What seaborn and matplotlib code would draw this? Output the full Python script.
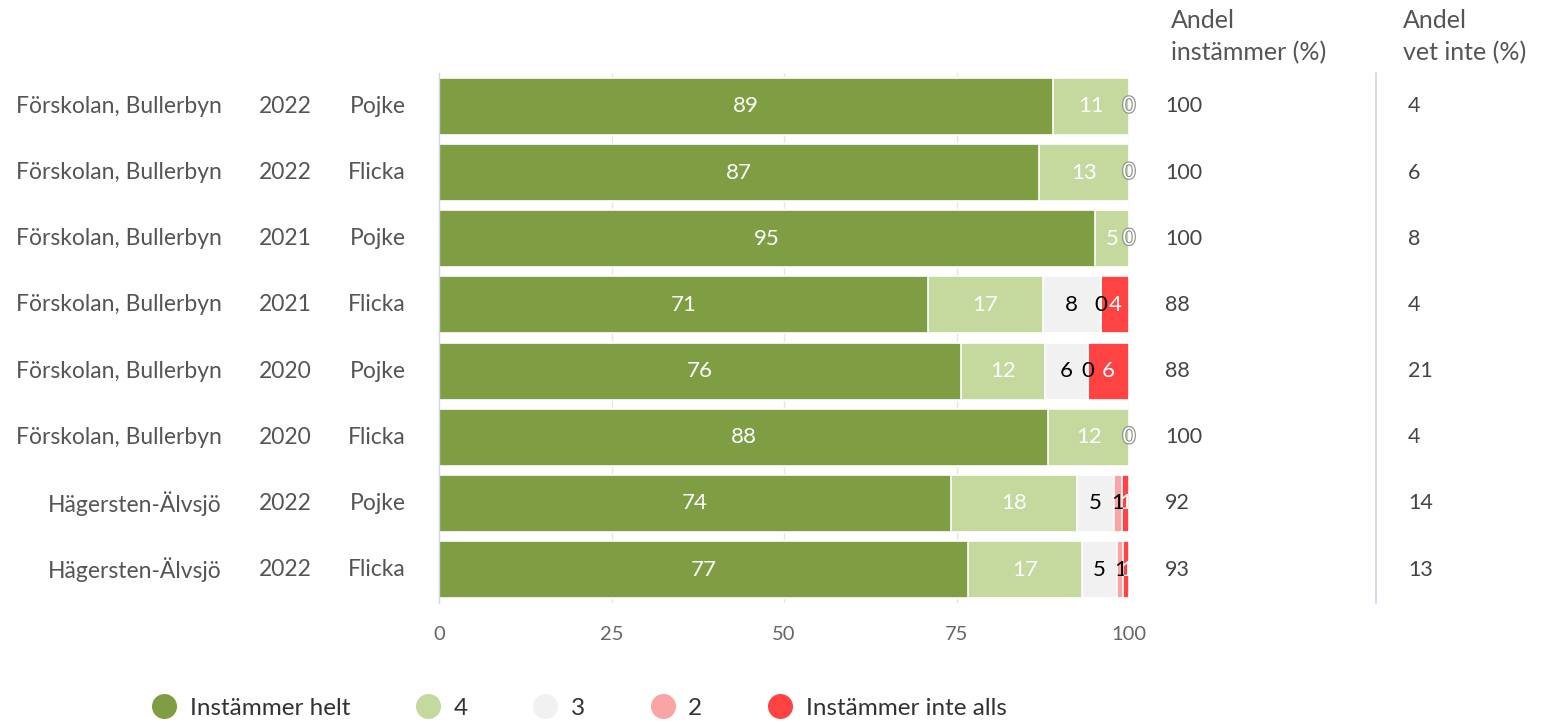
import numpy as np
import pandas as pd
import seaborn as sns
import matplotlib.pyplot as plt
import matplotlib.patheffects as pe
from matplotlib.lines import Line2D

# Data
schools = ["Förskolan, Bullerbyn"] * 6 + ["Hägersten-Älvsjö"] * 2
years = ["2022", "2022", "2021", "2021", "2020", "2020", "2022", "2022"]
genders = ["Pojke", "Flicka", "Pojke", "Flicka", "Pojke", "Flicka", "Pojke", "Flicka"]

helt = [89, 87, 95, 70.9, 75.7, 88.3, 74.2, 76.6]
fyra = [11, 13, 5, 16.6, 12.1, 11.7, 18.2, 16.6]
tre = [0, 0, 0, 8.4, 6.2, 0, 5.4, 5.1]
tva = [0, 0, 0, 0, 0, 0, 1.2, 0.9]
inte_alls = [0, 0, 0, 4.1, 6.0, 0, 1.0, 0.8]

andel_instammer = [100, 100, 100, 88, 88, 100, 92, 93]
andel_vet_inte = [4, 6, 8, 4, 21, 4, 14, 13]

categories = ["Instämmer helt", "4", "3", "2", "Instämmer inte alls"]
colors = ["#7f9e44", "#c5d89d", "#f1f1f1", "#f9a5a5", "#ff4343"]
label_colors = ["white", "white", "black", "black", "white"]

sns.set_theme(style="white")
plt.rcParams["font.family"] = ["Lato", "DejaVu Sans"]

series = np.array([helt, fyra, tre, tva, inte_alls]).T
cum = np.cumsum(series, axis=1)
ids = [str(i) for i in range(len(schools))]
df = pd.DataFrame(cum, columns=categories)
df["id"] = ids

fig = plt.figure(figsize=(15.48, 7.24), dpi=100)
ax = fig.add_axes([439 / 1548, 1 - 602.6 / 724, 690 / 1548, (602.6 - 73.4) / 724])

# x grid
for g in [25, 50, 75, 100]:
    ax.axvline(g, color="#e6e6e6", linewidth=1, zorder=0)

# stacked bars: draw cumulative totals from the right-most layer down
for k in range(len(categories) - 1, -1, -1):
    sns.barplot(data=df, x=categories[k], y="id", orient="h", color=colors[k],
                width=0.86, edgecolor="white", linewidth=1.2, errorbar=None,
                saturation=1, ax=ax, zorder=2)

ax.set_xlim(0, 100)
ax.set_ylim(len(ids) - 0.5, -0.5)
ax.set_xlabel("")
ax.set_ylabel("")
ax.set_xticks([0, 25, 50, 75, 100])
ax.tick_params(axis="x", length=0, pad=17, labelsize=14.5, labelcolor="#666666")
ax.set_yticks([])
ax.set_yticks(np.arange(-0.5, len(ids), 1), minor=True)
ax.tick_params(axis="y", which="minor", length=17, width=1, color="#ccd6eb", direction="out")
for s in ["top", "right", "bottom"]:
    ax.spines[s].set_visible(False)
ax.spines["left"].set_color("#ccd6eb")
ax.spines["left"].set_linewidth(1)

# data labels
for i in range(len(ids)):
    left = 0
    zero_end_done = False
    for k in range(len(categories)):
        v = series[i, k]
        xc = left + v / 2
        if v == 0 and left >= 99.95:
            if not zero_end_done:
                ax.text(100, i, "0", ha="center", va="center", fontsize=16, color="white",
                        path_effects=[pe.withStroke(linewidth=1.6, foreground="#8a8a8a")], zorder=5)
                zero_end_done = True
        else:
            ax.text(xc, i, f"{v:.0f}", ha="center", va="center", fontsize=16,
                    color=label_colors[k], zorder=5)
        left += v

# category labels
ytr = ax.get_yaxis_transform()
for i in range(len(ids)):
    ax.text(-0.3145, i, schools[i], transform=ytr, ha="right", va="center", fontsize=16.5, color="#555555")
    ax.text(-0.2232, i, years[i], transform=ytr, ha="center", va="center", fontsize=16.5, color="#555555")
    ax.text(-0.0478, i, genders[i], transform=ytr, ha="right", va="center", fontsize=16.5, color="#555555")
    ax.text(1.0522, i, str(andel_instammer[i]), transform=ytr, ha="left", va="center", fontsize=15.5, color="#444444")
    ax.text(1.4043, i, str(andel_vet_inte[i]), transform=ytr, ha="left", va="center", fontsize=15.5, color="#444444")

# separator between the two extra columns
ax.plot([1.358, 1.358], [0, 1], transform=ax.transAxes, color="#ccd6eb", linewidth=1.2, clip_on=False)

fig.text(1171 / 1548, 1 - 9 / 724, "Andel\ninstämmer (%)", ha="left", va="top",
         fontsize=18, color="#555555", linespacing=1.45)
fig.text(1403 / 1548, 1 - 9 / 724, "Andel\nvet inte (%)", ha="left", va="top",
         fontsize=18, color="#555555", linespacing=1.45)

handles = [Line2D([], [], marker="o", linestyle="", markersize=17, markerfacecolor=c,
                  markeredgecolor=c) for c in colors]
fig.legend(handles, categories, loc="center", bbox_to_anchor=(578 / 1548, 1 - 708 / 724),
           ncol=5, frameon=False, fontsize=17.5, labelcolor="#333333", handletextpad=0.45,
           columnspacing=2.6, handlelength=1.2)

fig.savefig("out.png", dpi=100)
